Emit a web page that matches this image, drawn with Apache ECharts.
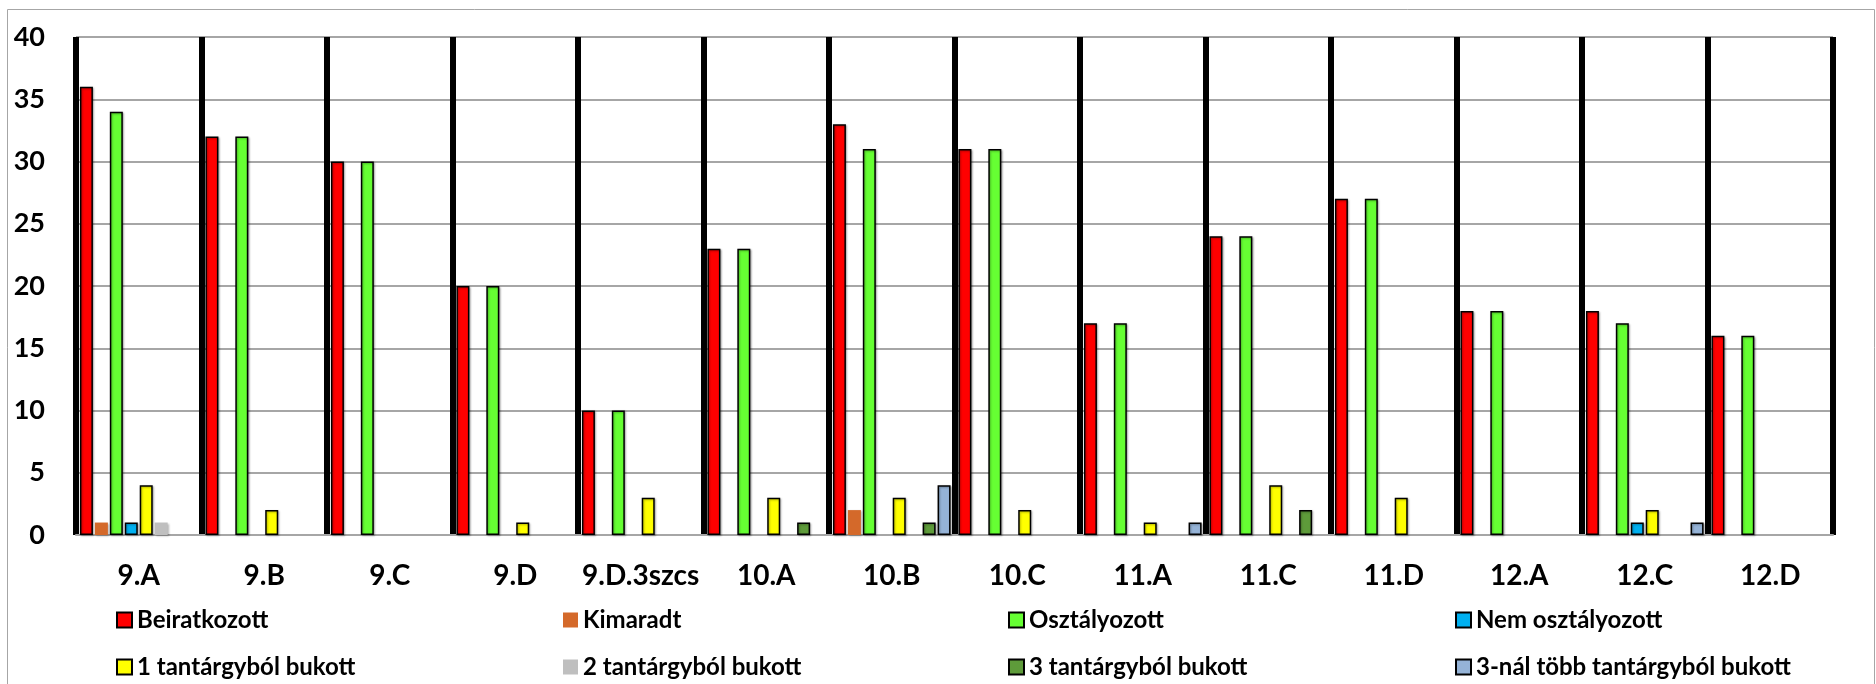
<!DOCTYPE html>
<html>
<head>
<meta charset="utf-8">
<script src="https://cdn.jsdelivr.net/npm/echarts@6/dist/echarts.min.js"></script>
<style>
  html, body { margin: 0; padding: 0; background: #fff; }
  #main { width: 1876px; height: 684px; }
</style>
</head>
<body>
<div id="main"></div>
<script>
var categories = ['9.A','9.B','9.C','9.D','9.D.3szcs','10.A','10.B','10.C','11.A','11.C','11.D','12.A','12.C','12.D'];

var beiratkozott      = [36,32,30,20,10,23,33,31,17,24,27,18,18,16];
var kimaradt          = [ 1, 0, 0, 0, 0, 0, 2, 0, 0, 0, 0, 0, 0, 0];
var osztalyozott      = [34,32,30,20,10,23,31,31,17,24,27,18,17,16];
var nemOsztalyozott   = [ 1, 0, 0, 0, 0, 0, 0, 0, 0, 0, 0, 0, 1, 0];
var bukott1           = [ 4, 2, 0, 1, 3, 3, 3, 2, 1, 4, 3, 0, 2, 0];
var bukott2           = [ 1, 0, 0, 0, 0, 0, 0, 0, 0, 0, 0, 0, 0, 0];
var bukott3           = [ 0, 0, 0, 0, 0, 1, 1, 0, 0, 2, 0, 0, 0, 0];
var bukottTobb        = [ 0, 0, 0, 0, 0, 0, 4, 0, 1, 0, 0, 0, 1, 0];

var yTicks = [0,5,10,15,20,25,30,35,40];

var names = ['Beiratkozott','Kimaradt','Osztályozott','Nem osztályozott',
             '1 tantárgyból bukott','2 tantárgyból bukott','3 tantárgyból bukott','3-nál több tantárgyból bukott'];
var values = [beiratkozott, kimaradt, osztalyozott, nemOsztalyozott, bukott1, bukott2, bukott3, bukottTobb];
var colors = ['#FF0000','#D4692A','#66FF33','#00B0F0','#FFFF00','#BFBFBF','#5E9B3A','#95B3D7'];
var outlined = [true,false,true,true,true,false,true,true];

var font = 'Lato';

var myChart = echarts.init(document.getElementById('main'));

var series = names.map(function (n, i) {
    return {
        name: n,
        type: 'bar',
        barWidth: 13,
        barGap: '15%',
        barCategoryGap: '6%',
        data: values[i].map(function (v) { return v === 0 ? null : v; }),
        itemStyle: {
            color: colors[i],
            borderColor: outlined[i] ? '#000' : colors[i],
            borderWidth: outlined[i] ? 1.5 : 0,
            shadowColor: 'rgba(0,0,0,0.3)',
            shadowBlur: 2,
            shadowOffsetX: 1,
            shadowOffsetY: 1
        },
        emphasis: { disabled: true }
    };
});

// one legend per item: 4 columns x 2 rows
var legendCols = [111, 558, 1003, 1450];
var legendRows = [603, 650];
var legends = names.map(function (n, i) {
    return {
        orient: 'horizontal',
        left: legendCols[i % 4],
        top: legendRows[Math.floor(i / 4)],
        itemWidth: 15,
        itemHeight: 15,
        icon: 'rect',
        selectedMode: false,
        textStyle: { fontFamily: font, fontWeight: 'bold', fontSize: 24, color: '#000' },
        data: [n]
    };
});

option = {
    animation: false,
    backgroundColor: '#fff',
    textStyle: { fontFamily: font },
    graphic: [{
        type: 'rect',
        shape: { x: 7.5, y: 9.5, width: 1867, height: 720 },
        style: { fill: 'none', stroke: '#A6A6A6', lineWidth: 1 },
        silent: true
    }],
    legend: legends,
    grid: { left: 76, right: 43, top: 37, bottom: 149, containLabel: false },
    xAxis: {
        type: 'category',
        data: categories,
        axisTick: { show: false },
        axisLine: { show: true, lineStyle: { color: '#A6A6A6', width: 2 } },
        splitLine: { show: true, interval: 0, lineStyle: { color: '#000', width: 6 } },
        axisLabel: {
            interval: 0,
            margin: 27,
            color: '#000',
            fontFamily: font,
            fontWeight: 'bold',
            fontSize: 28
        }
    },
    yAxis: {
        type: 'value',
        min: yTicks[0],
        max: yTicks[yTicks.length - 1],
        interval: 5,
        axisLine: { show: false },
        axisTick: { show: false },
        splitLine: { show: true, lineStyle: { color: '#A6A6A6', width: 2 } },
        axisLabel: {
            margin: 31,
            color: '#000',
            fontFamily: font,
            fontWeight: 'bold',
            fontSize: 27
        }
    },
    series: series
};

myChart.setOption(option);
</script>
</body>
</html>
